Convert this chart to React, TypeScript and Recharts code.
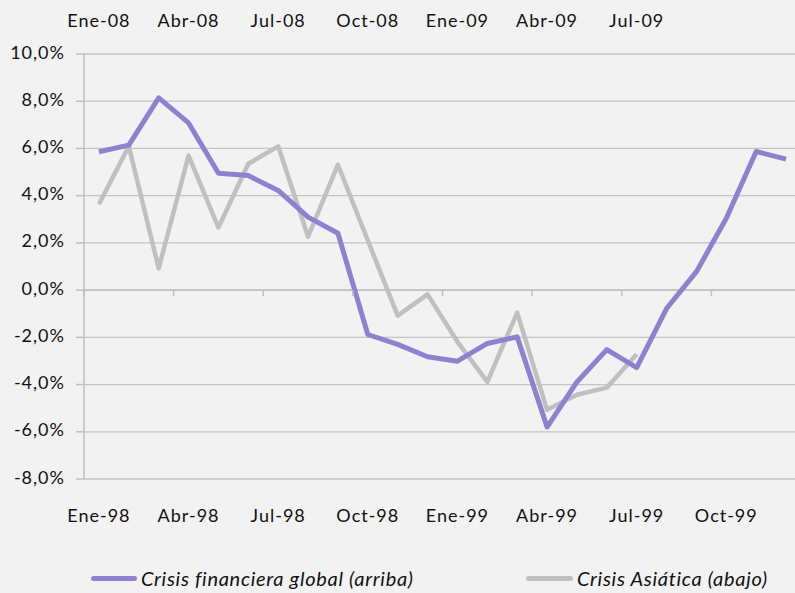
import React from "react";
import { LineChart, Line, XAxis, YAxis, CartesianGrid, ReferenceLine } from "recharts";

// Categories (bottom axis: Asian crisis months, top axis: global crisis months)
const mesesAsia = [
  "Ene-98", "Feb-98", "Mar-98", "Abr-98", "May-98", "Jun-98", "Jul-98", "Ago-98",
  "Sep-98", "Oct-98", "Nov-98", "Dic-98", "Ene-99", "Feb-99", "Mar-99", "Abr-99",
  "May-99", "Jun-99", "Jul-99", "Ago-99", "Sep-99", "Oct-99", "Nov-99", "Dic-99",
];
const mesesGlobal = [
  "Ene-08", "Feb-08", "Mar-08", "Abr-08", "May-08", "Jun-08", "Jul-08", "Ago-08",
  "Sep-08", "Oct-08", "Nov-08", "Dic-08", "Ene-09", "Feb-09", "Mar-09", "Abr-09",
  "May-09", "Jun-09", "Jul-09",
];

// Series values (%)
const crisisGlobal = [
  5.86, 6.14, 8.14, 7.08, 4.95, 4.85, 4.22, 3.09, 2.41, -1.88, -2.3, -2.82,
  -3.01, -2.26, -1.98, -5.8, -3.89, -2.52, -3.28, -0.78, 0.78, 3.04, 5.87, 5.55,
];
const crisisAsiatica = [
  3.64, 6.09, 0.92, 5.7, 2.65, 5.35, 6.09, 2.26, 5.31, 2.1, -1.08, -0.18,
  -2.19, -3.89, -0.95, -5.07, -4.43, -4.13, -2.72,
];

const yTicks = [-8, -6, -4, -2, 0, 2, 4, 6, 8, 10];

const data = mesesAsia.map((m, i) => ({
  mesAsia: m,
  mesGlobal: mesesGlobal[i] ?? "",
  global: crisisGlobal[i],
  asia: crisisAsiatica[i],
}));

const FONT = "Lato, 'Open Sans', sans-serif";
const PURPLE = "#9080D0";
const GRAY = "#C0C0C0";
const GRID = "#C4C4C4";
const AXIS = "#BFBFBF";

// layout constants
const W = 801;
const H = 593;
const M = { top: 14, right: 0, bottom: 74, left: 0 };
const Y_AXIS_W = 84;
const X_AXIS_H = 40;
const PLOT_TOP = M.top + X_AXIS_H;
const PLOT_H = H - M.bottom - X_AXIS_H - PLOT_TOP;
const PLOT_W = W - M.left - M.right - Y_AXIS_W;
const BAND = PLOT_W / mesesAsia.length;
const Y_MIN = -8;
const Y_MAX = 10;
const ZERO_Y = PLOT_TOP + (PLOT_H * Y_MAX) / (Y_MAX - Y_MIN);

const fmtPct = (v: number) => v.toFixed(1).replace(".", ",") + "%";

const BottomTick = (props: any) => {
  const { x, y, payload } = props;
  return (
    <g>
      <line x1={x - BAND / 2} x2={x - BAND / 2} y1={ZERO_Y} y2={ZERO_Y + 6} stroke={AXIS} strokeWidth={1.5} />
      <text x={x} y={y + 30} textAnchor="middle" dominantBaseline="middle" fontFamily={FONT} fontSize={18} fill="#111" letterSpacing={1}>
        {payload.value}
      </text>
    </g>
  );
};

const TopTick = (props: any) => {
  const { x, payload } = props;
  if (!payload.value) return null;
  return (
    <text x={x} y={22} textAnchor="middle" dominantBaseline="middle" fontFamily={FONT} fontSize={18} fill="#111" letterSpacing={1}>
      {payload.value}
    </text>
  );
};

const LeftTick = (props: any) => {
  const { y, payload } = props;
  return (
    <text x={65} y={y} textAnchor="end" dominantBaseline="middle" fontFamily={FONT} fontSize={18} fill="#111" letterSpacing={1}>
      {fmtPct(payload.value)}
    </text>
  );
};

export default function App() {
  return (
    <div style={{ position: "absolute", left: 0, top: 0, width: 795, height: 593, overflow: "hidden", background: "#F2F2F2" }}>
      <LineChart width={W} height={H} data={data} margin={M}>
        <CartesianGrid horizontal vertical={false} stroke={GRID} strokeWidth={1.3} />
        <XAxis
          dataKey="mesAsia"
          xAxisId="bottom"
          orientation="bottom"
          height={X_AXIS_H}
          interval={2}
          padding={{ left: BAND / 2, right: BAND / 2 }}
          axisLine={false}
          tickLine={false}
          tick={<BottomTick />}
        />
        <XAxis
          dataKey="mesGlobal"
          xAxisId="top"
          orientation="top"
          height={X_AXIS_H}
          interval={2}
          padding={{ left: BAND / 2, right: BAND / 2 }}
          axisLine={false}
          tickLine={false}
          tick={<TopTick />}
        />
        <YAxis
          width={Y_AXIS_W}
          domain={[Y_MIN, Y_MAX]}
          ticks={yTicks}
          interval={0}
          axisLine={{ stroke: AXIS, strokeWidth: 1.5 }}
          tickLine={{ stroke: AXIS, strokeWidth: 1.5 }}
          tickSize={8}
          tick={<LeftTick />}
        />
        <ReferenceLine y={0} xAxisId="bottom" stroke={AXIS} strokeWidth={1.5} />
        <Line
          xAxisId="bottom"
          dataKey="asia"
          stroke={GRAY}
          strokeWidth={4.5}
          dot={false}
          strokeLinejoin="round"
          isAnimationActive={false}
        />
        <Line
          xAxisId="bottom"
          dataKey="global"
          stroke={PURPLE}
          strokeWidth={5}
          dot={false}
          strokeLinejoin="round"
          isAnimationActive={false}
        />
      </LineChart>
      <div style={{ position: "absolute", left: 0, top: 565, width: 795, height: 26, fontFamily: FONT, fontStyle: "italic", fontSize: 20, letterSpacing: 0.7, color: "#111" }}>
        <div style={{ position: "absolute", left: 91, top: 11, width: 46, height: 5, borderRadius: 3, background: PURPLE }} />
        <div style={{ position: "absolute", left: 141, top: 0, whiteSpace: "nowrap", lineHeight: "26px" }}>Crisis financiera global (arriba)</div>
        <div style={{ position: "absolute", left: 526, top: 11, width: 47, height: 5, borderRadius: 3, background: GRAY }} />
        <div style={{ position: "absolute", left: 577, top: 0, whiteSpace: "nowrap", lineHeight: "26px" }}>Crisis Asiática (abajo)</div>
      </div>
    </div>
  );
}
